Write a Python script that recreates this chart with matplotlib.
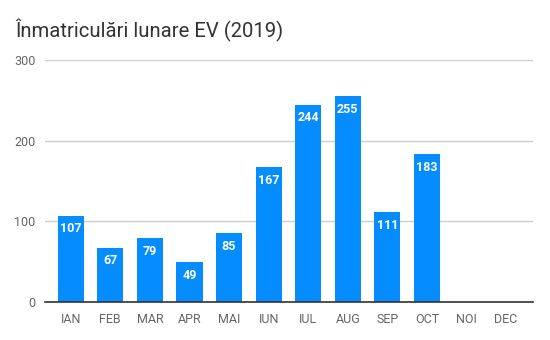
import matplotlib
matplotlib.use("Agg")
import matplotlib.pyplot as plt

months = ["IAN", "FEB", "MAR", "APR", "MAI", "IUN", "IUL", "AUG", "SEP", "OCT", "NOI", "DEC"]
values = [107, 67, 79, 49, 85, 167, 244, 255, 111, 183]
yticks = [0, 100, 200, 300]
title = "Înmatriculări lunare EV (2019)"

plt.rcParams['font.family'] = ['Roboto', 'DejaVu Sans']

fig = plt.figure(figsize=(5.5, 3.4), dpi=100)
ax = fig.add_axes([45/550, 1-302/340, (533-45)/550, (302-60)/340])

color = '#058dff'
x = list(range(len(values)))
bars = ax.bar(x, values, width=0.66, color=color, zorder=3)
for xi, v in zip(x, values):
    ax.annotate(str(v), (xi, v), xytext=(0, -4.5), textcoords='offset points',
                ha='center', va='top', color='white', fontsize=9, fontweight='bold', zorder=4)

ax.set_xlim(-0.65, 11.68)
ax.set_ylim(0, 300)
ax.set_xticks(range(len(months)))
ax.set_xticklabels(months)
ax.set_yticks(yticks)
ax.set_yticklabels([str(t) for t in yticks])
ax.tick_params(axis='both', length=0, labelsize=9, colors='#666666')
ax.tick_params(axis='x', pad=8)
ax.tick_params(axis='y', pad=7)
ax.grid(axis='y', color='#cccccc', linewidth=1, zorder=0)
for s in ['top', 'right', 'left']:
    ax.spines[s].set_visible(False)
ax.spines['bottom'].set_color('#333333')
ax.spines['bottom'].set_linewidth(1.2)
ax.spines['bottom'].set_zorder(5)

fig.text(15/550, 1-30/340, title, fontsize=14.6, color='#333333', va='center', ha='left')

fig.savefig("out.png", dpi=100)
